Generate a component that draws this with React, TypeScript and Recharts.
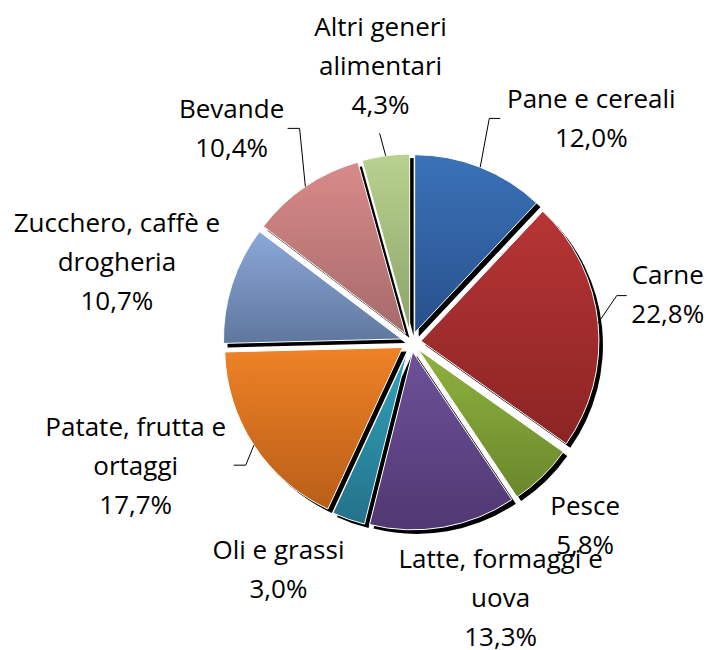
import React from 'react';
import { PieChart, Pie, Cell } from 'recharts';

// spesa alimentare per categoria (%)
const categories = [
  'Pane e cereali',
  'Carne',
  'Pesce',
  'Latte, formaggi e uova',
  'Oli e grassi',
  'Patate, frutta e ortaggi',
  'Zucchero, caffè e drogheria',
  'Bevande',
  'Altri generi alimentari',
];
const shares = [12.0, 22.8, 5.8, 13.3, 3.0, 17.7, 10.7, 10.4, 4.3];

// how each category name wraps in its label
const labelLines = [
  ['Pane e cereali'],
  ['Carne'],
  ['Pesce'],
  ['Latte, formaggi e', 'uova'],
  ['Oli e grassi'],
  ['Patate, frutta e', 'ortaggi'],
  ['Zucchero, caffè e', 'drogheria'],
  ['Bevande'],
  ['Altri generi', 'alimentari'],
];

const topColors = ['#3a72b8', '#b73535', '#8fb23f', '#6e5199', '#33a2ba', '#ee8226', '#8ba8d8', '#d98a8a', '#b9d28f'];
const bottomColors = ['#28508c', '#8c2424', '#6a872c', '#503872', '#23728a', '#b95e18', '#5f779e', '#a66a6a', '#8ca36a'];

// layout tweaks, not data
const CX = 411;
const CY = 342;
const R = 178;
const EXPLODE = 10;
const LABEL_R = 70;
const LINE_H = 39;
const labelNudge: [number, number][] = [
  [89, 16], [10, -14], [1, 15], [47, 21], [-50, 3], [-68, -3], [-58, 5], [-40, 1], [3, -21],
];
// leader end relative to label anchor, plus horizontal elbow length (null = no leader)
const leaders: ([number, number, number] | null)[] = [
  [-91, -9, -11], [-41, -7.5, -10], null, null, null, [98, -10, 12], null, [56, -9.5, 12], [-1, 58, 0],
];

const data = categories.map((name, i) => ({ name, value: shares[i] }));
const RAD = Math.PI / 180;

// mid angle of each slice in recharts degrees (counter-clockwise from 3 o'clock)
const total = shares.reduce((a, b) => a + b, 0);
const midAngles = shares.map((v, i) => {
  const before = shares.slice(0, i).reduce((a, b) => a + b, 0);
  return 90 - ((before + v / 2) / total) * 360;
});

const fmt = (v: number) => v.toFixed(1).replace('.', ',') + '%';

const renderLabel = (p: any) => {
  const { cx, cy, midAngle, outerRadius, index } = p;
  const ux = Math.cos(midAngle * RAD);
  const uy = -Math.sin(midAngle * RAD);
  const ax = cx + (outerRadius + LABEL_R) * ux + labelNudge[index][0];
  const ay = cy + (outerRadius + LABEL_R) * uy + labelNudge[index][1];
  const lines = [...labelLines[index], fmt(shares[index])];
  const n = lines.length;
  const ld = leaders[index];
  let leader = null;
  if (ld) {
    const sx = cx + (EXPLODE + outerRadius) * ux;
    const sy = cy + (EXPLODE + outerRadius) * uy;
    const ex = ax + ld[0];
    const ey = ay + ld[1];
    const pts = ld[2] !== 0 ? `${ex},${ey} ${ex + ld[2]},${ey} ${sx},${sy}` : `${ex},${ey} ${sx},${sy}`;
    leader = <polyline points={pts} fill="none" stroke="#000" strokeWidth={1} />;
  }
  return (
    <g key={`lbl-${index}`}>
      {leader}
      <text
        x={ax}
        y={ay}
        textAnchor="middle"
        fill="#000"
        fontFamily="'Open Sans', sans-serif"
        fontSize={26}
      >
        {lines.map((t, k) => (
          <tspan key={k} x={ax} y={ay + (k - (n - 1) / 2) * LINE_H}>
            {t}
          </tspan>
        ))}
      </text>
    </g>
  );
};

export default function App() {
  return (
    <div style={{ position: 'absolute', left: 0, top: 0, width: 711, height: 650, overflow: 'hidden', background: '#fff' }}>
      <PieChart width={711} height={650} margin={{ top: 0, right: 0, bottom: 0, left: 0 }}>
        <defs>
          {topColors.map((c, i) => (
            <linearGradient key={i} id={`grad${i}`} x1="0" y1="0" x2="0" y2="1">
              <stop offset="0%" stopColor={c} />
              <stop offset="100%" stopColor={bottomColors[i]} />
            </linearGradient>
          ))}
        </defs>
        {/* shadows first */}
        {midAngles.map((m, i) => (
          <Pie
            key={`sh${i}`}
            data={data}
            dataKey="value"
            cx={CX + EXPLODE * Math.cos(m * RAD) + 4}
            cy={CY - EXPLODE * Math.sin(m * RAD) + 4}
            outerRadius={R}
            startAngle={90}
            endAngle={-270}
            stroke="none"
            isAnimationActive={false}
          >
            {data.map((d, j) => (
              <Cell key={j} fill={j === i ? '#000' : 'transparent'} />
            ))}
          </Pie>
        ))}
        {midAngles.map((m, i) => (
          <Pie
            key={`sl${i}`}
            data={data}
            dataKey="value"
            cx={CX + EXPLODE * Math.cos(m * RAD)}
            cy={CY - EXPLODE * Math.sin(m * RAD)}
            outerRadius={R}
            startAngle={90}
            endAngle={-270}
            isAnimationActive={false}
          >
            {data.map((d, j) => (
              <Cell
                key={j}
                fill={j === i ? `url(#grad${j})` : 'transparent'}
                stroke={j === i ? '#fff' : 'none'}
                strokeWidth={1}
              />
            ))}
          </Pie>
        ))}
        {/* labels */}
        <Pie
          data={data}
          dataKey="value"
          cx={CX}
          cy={CY}
          outerRadius={R}
          startAngle={90}
          endAngle={-270}
          fill="none"
          stroke="none"
          label={renderLabel}
          labelLine={false}
          isAnimationActive={false}
        >
          {data.map((d, j) => (
            <Cell key={j} fill="none" stroke="none" />
          ))}
        </Pie>
      </PieChart>
    </div>
  );
}
